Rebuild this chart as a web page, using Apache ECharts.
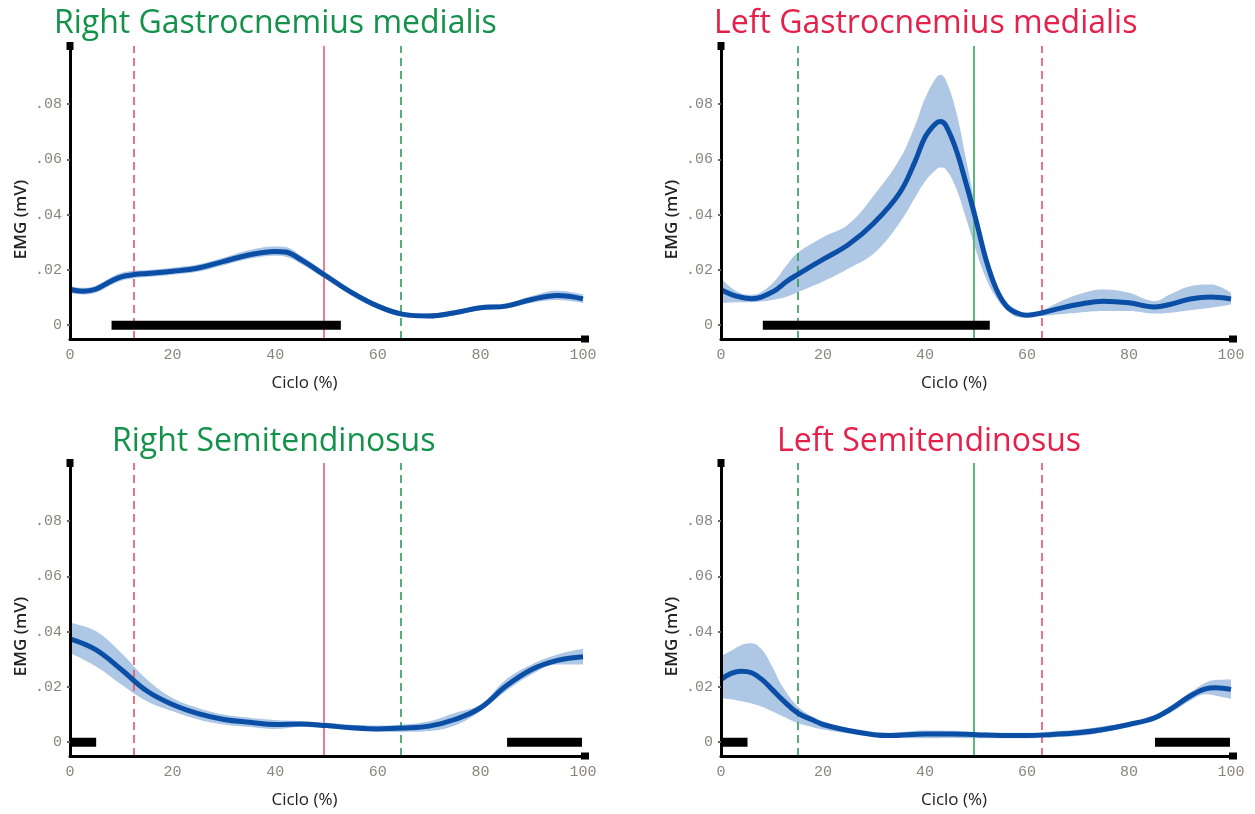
<!DOCTYPE html>
<html><head><meta charset="utf-8">
<script src="https://cdn.jsdelivr.net/npm/echarts@6/dist/echarts.min.js"></script>
<style>html,body{margin:0;padding:0;background:#fff}#c{width:1255px;height:814px}</style>
</head><body><div id="c"></div><script>
// ---------- DATA ----------
const titles = ['Right Gastrocnemius medialis', 'Left Gastrocnemius medialis', 'Right Semitendinosus', 'Left Semitendinosus'];
const xAxisName = 'Ciclo (%)';
const yAxisName = 'EMG (mV)';
const yTickValues = [0, 0.02, 0.04, 0.06, 0.08];
const yTickLabels = ['0', '.02', '.04', '.06', '.08'];

// Right Gastrocnemius medialis
const xA = [0, 2.5, 5, 8, 10, 12.5, 15, 20, 25, 30, 35, 40, 42, 45, 50, 55, 60, 65, 70, 75, 80, 85, 90, 95, 100];
const meanA = [0.0129, 0.0123, 0.0130, 0.0159, 0.0175, 0.0183, 0.0187, 0.0195, 0.0207, 0.0231, 0.0255, 0.0267, 0.0265, 0.0237, 0.0177, 0.0117, 0.0069, 0.0039, 0.0033, 0.0045, 0.0063, 0.0069, 0.0093, 0.0107, 0.0095];
const upperA = [0.0142, 0.0135, 0.0143, 0.0173, 0.0190, 0.0197, 0.0200, 0.0208, 0.0220, 0.0245, 0.0272, 0.0285, 0.0283, 0.0252, 0.0190, 0.0128, 0.0079, 0.0048, 0.0042, 0.0054, 0.0072, 0.0079, 0.0106, 0.0125, 0.0112];
const lowerA = [0.0116, 0.0111, 0.0117, 0.0145, 0.0161, 0.0170, 0.0174, 0.0182, 0.0194, 0.0217, 0.0240, 0.0251, 0.0248, 0.0222, 0.0164, 0.0106, 0.0059, 0.0030, 0.0025, 0.0036, 0.0054, 0.0060, 0.0081, 0.0091, 0.0080];
const barsA = [[8.1, 52.8]];
const vlinesA = [12.5, 49.5, 64.5];

// Left Gastrocnemius medialis
const xB = [0, 3, 6, 10, 13, 15, 20, 25, 30, 35, 38, 40, 42, 43, 44, 46, 48, 50, 52, 54, 56, 58, 60, 63, 66, 70, 75, 80, 85, 88, 92, 96, 100];
const meanB = [0.0128, 0.0105, 0.0096, 0.0119, 0.0160, 0.0183, 0.0238, 0.0292, 0.0370, 0.0478, 0.0590, 0.0680, 0.0728, 0.0737, 0.0725, 0.0640, 0.0516, 0.0380, 0.0235, 0.0130, 0.0068, 0.0044, 0.0036, 0.0045, 0.0059, 0.0075, 0.0087, 0.0081, 0.0066, 0.0075, 0.0095, 0.0102, 0.0095];
const upperB = [0.0171, 0.0123, 0.0110, 0.0150, 0.0220, 0.0261, 0.0318, 0.0365, 0.0470, 0.0599, 0.0720, 0.0820, 0.0890, 0.0906, 0.0890, 0.0780, 0.0605, 0.0420, 0.0250, 0.0145, 0.0085, 0.0057, 0.0042, 0.0054, 0.0081, 0.0111, 0.0129, 0.0117, 0.0087, 0.0111, 0.0141, 0.0147, 0.0117];
const lowerB = [0.0080, 0.0083, 0.0083, 0.0091, 0.0104, 0.0119, 0.0158, 0.0205, 0.0260, 0.0370, 0.0460, 0.0520, 0.0560, 0.0570, 0.0565, 0.0500, 0.0390, 0.0270, 0.0168, 0.0098, 0.0055, 0.0030, 0.0027, 0.0033, 0.0039, 0.0045, 0.0051, 0.0051, 0.0042, 0.0045, 0.0054, 0.0063, 0.0075];
const barsB = [[8.2, 52.7]];
const vlinesB = [15.0, 49.6, 62.8];

// Right Semitendinosus
const xC = [0, 5, 10, 15, 20, 25, 30, 35, 40, 45, 50, 55, 60, 65, 70, 75, 80, 85, 90, 95, 100];
const meanC = [0.0374, 0.0335, 0.0263, 0.0185, 0.0136, 0.0103, 0.0082, 0.0072, 0.0064, 0.0066, 0.0060, 0.0052, 0.0048, 0.0051, 0.0058, 0.0082, 0.0124, 0.0203, 0.0263, 0.0296, 0.0309];
const upperC = [0.0432, 0.0402, 0.0323, 0.0227, 0.0160, 0.0124, 0.0100, 0.0088, 0.0080, 0.0076, 0.0070, 0.0063, 0.0060, 0.0064, 0.0076, 0.0106, 0.0136, 0.0227, 0.0281, 0.0317, 0.0338];
const lowerC = [0.0323, 0.0275, 0.0209, 0.0148, 0.0112, 0.0082, 0.0064, 0.0055, 0.0048, 0.0055, 0.0051, 0.0042, 0.0039, 0.0037, 0.0040, 0.0060, 0.0112, 0.0185, 0.0245, 0.0281, 0.0281];
const barsC = [[0, 5.1], [85.2, 99.8]];
const vlinesC = [12.5, 49.5, 64.5];

// Left Semitendinosus
const xD = [0, 2, 4, 6, 8, 10, 12, 15, 18, 20, 25, 30, 33, 40, 45, 50, 55, 60, 65, 70, 75, 80, 85, 88, 92, 95, 97, 100];
const meanD = [0.0227, 0.0249, 0.0257, 0.0251, 0.0227, 0.0191, 0.0154, 0.0106, 0.0080, 0.0064, 0.0042, 0.0027, 0.0024, 0.0030, 0.0030, 0.0027, 0.0024, 0.0024, 0.0028, 0.0034, 0.0046, 0.0064, 0.0088, 0.0118, 0.0167, 0.0193, 0.0197, 0.0191];
const upperD = [0.0311, 0.0331, 0.0352, 0.0358, 0.0335, 0.0275, 0.0203, 0.0130, 0.0092, 0.0076, 0.0048, 0.0034, 0.0034, 0.0042, 0.0041, 0.0036, 0.0034, 0.0034, 0.0039, 0.0046, 0.0058, 0.0072, 0.0096, 0.0130, 0.0180, 0.0215, 0.0225, 0.0227];
const lowerD = [0.0160, 0.0155, 0.0148, 0.0140, 0.0128, 0.0112, 0.0095, 0.0070, 0.0054, 0.0046, 0.0031, 0.0019, 0.0016, 0.0014, 0.0015, 0.0014, 0.0014, 0.0014, 0.0017, 0.0022, 0.0036, 0.0056, 0.0080, 0.0105, 0.0150, 0.0173, 0.0168, 0.0157];
const barsD = [[0, 5.2], [85.1, 99.8]];
const vlinesD = [15.0, 49.5, 62.8];

// ---------- STYLE / LAYOUT ----------
const GREEN_T = '#14924b', RED_T = '#e5204a';
const RED_D = '#e8506a', RED_S = '#f07c8f', GREEN_D = '#2e9a55', GREEN_S = '#5cb87a';
const BAND = '#aec7e5', MEAN = '#0a4ea6', TICK = '#8a857c';
const rightStyle = [{c: RED_D, t: [8, 5]}, {c: RED_S, t: 'solid'}, {c: GREEN_D, t: [8, 5]}];
const leftStyle = [{c: GREEN_D, t: [8, 5]}, {c: GREEN_S, t: 'solid'}, {c: RED_D, t: [8, 5]}];

const panels = [
  {x: xA, mean: meanA, up: upperA, lo: lowerA, bars: barsA, vl: vlinesA, vs: rightStyle, tc: GREEN_T},
  {x: xB, mean: meanB, up: upperB, lo: lowerB, bars: barsB, vl: vlinesB, vs: leftStyle, tc: RED_T},
  {x: xC, mean: meanC, up: upperC, lo: lowerC, bars: barsC, vl: vlinesC, vs: rightStyle, tc: GREEN_T},
  {x: xD, mean: meanD, up: upperD, lo: lowerD, bars: barsD, vl: vlinesD, vs: leftStyle, tc: RED_T}
];
const gridPos = [
  {left: 70, top: 46, width: 513, height: 293},
  {left: 721, top: 46, width: 510, height: 293},
  {left: 70, top: 463, width: 513, height: 293},
  {left: 721, top: 463, width: 510, height: 293}
];
const titlePos = [{left: 54, top: 8}, {left: 714, top: 8}, {left: 112, top: 426}, {left: 777, top: 426}];

const option = {
  backgroundColor: '#fff',
  animation: false,
  title: titles.map((t, i) => ({
    text: t, left: titlePos[i].left, top: titlePos[i].top, padding: 0,
    textStyle: {fontFamily: 'Open Sans', fontSize: 32, fontWeight: 'normal', color: panels[i].tc}
  })),
  grid: gridPos.map(g => Object.assign({containLabel: false}, g)),
  xAxis: gridPos.map((g, i) => ({
    type: 'value', gridIndex: i, min: 0, max: 100, interval: 20, z: 10,
    name: xAxisName, nameLocation: 'middle', nameGap: 36,
    nameTextStyle: {fontFamily: 'Open Sans', fontSize: 17, color: '#222', padding: [0, 44, 0, 0]},
    axisLine: {onZero: false, symbol: ['none', 'rect'], symbolSize: [7, 8], symbolOffset: [0, 2], lineStyle: {color: '#000', width: 3}},
    axisTick: {show: false},
    splitLine: {show: false},
    axisLabel: {fontFamily: 'Liberation Mono', fontSize: 15, color: TICK, margin: 9}
  })),
  yAxis: gridPos.map((g, i) => ({
    type: 'value', gridIndex: i, min: -0.005, max: 0.101, z: 10,
    name: yAxisName, nameLocation: 'middle', nameGap: 40,
    nameTextStyle: {fontFamily: 'Open Sans', fontSize: 17, fontWeight: 600, color: '#222', padding: [0, 54, 0, 0]},
    axisLine: {symbol: ['none', 'rect'], symbolSize: [7, 8], lineStyle: {color: '#000', width: 3}},
    axisTick: {show: true, length: 3, customValues: yTickValues, lineStyle: {color: '#666', width: 2}},
    splitLine: {show: false},
    axisLabel: {
      customValues: yTickValues, fontFamily: 'Liberation Mono', fontSize: 15, color: TICK, margin: 8,
      formatter: v => yTickLabels[yTickValues.findIndex(t => Math.abs(t - v) < 1e-9)] ?? ''
    }
  })),
  series: []
};

panels.forEach((p, i) => {
  // band: upper filled with band colour down to the axis, lower filled with white on top of it
  option.series.push({
    type: 'line', xAxisIndex: i, yAxisIndex: i, data: p.x.map((x, k) => [x, p.up[k]]),
    symbol: 'none', smooth: 0.4, lineStyle: {width: 0, opacity: 0},
    areaStyle: {color: BAND, opacity: 1, origin: 'start'}, silent: true, z: 1
  });
  option.series.push({
    type: 'line', xAxisIndex: i, yAxisIndex: i, data: p.x.map((x, k) => [x, p.lo[k]]),
    symbol: 'none', smooth: 0.4, lineStyle: {width: 0, opacity: 0},
    areaStyle: {color: '#ffffff', opacity: 1, origin: 'start'}, silent: true, z: 1
  });
  option.series.push({
    type: 'line', xAxisIndex: i, yAxisIndex: i, data: [],
    silent: true, z: 2,
    markLine: {
      silent: true, symbol: 'none', z: 2, animation: false,
      label: {show: false},
      data: p.vl.map((v, k) => ({xAxis: v, lineStyle: {color: p.vs[k].c, type: p.vs[k].t, width: p.vs[k].t === 'solid' ? 2 : 1.6}}))
    }
  });
  option.series.push({
    type: 'line', xAxisIndex: i, yAxisIndex: i, data: p.x.map((x, k) => [x, p.mean[k]]),
    symbol: 'none', smooth: 0.4, lineStyle: {width: 5, color: MEAN}, z: 3
  });
  p.bars.forEach(b => {
    option.series.push({
      type: 'line', xAxisIndex: i, yAxisIndex: i, data: [[b[0], 0], [b[1], 0]],
      symbol: 'none', lineStyle: {width: 9, color: '#000', cap: 'butt'}, z: 4, silent: true
    });
  });
});

const chart = echarts.init(document.getElementById('c'), null, {renderer: 'canvas'});
chart.setOption(option);
</script></body></html>
